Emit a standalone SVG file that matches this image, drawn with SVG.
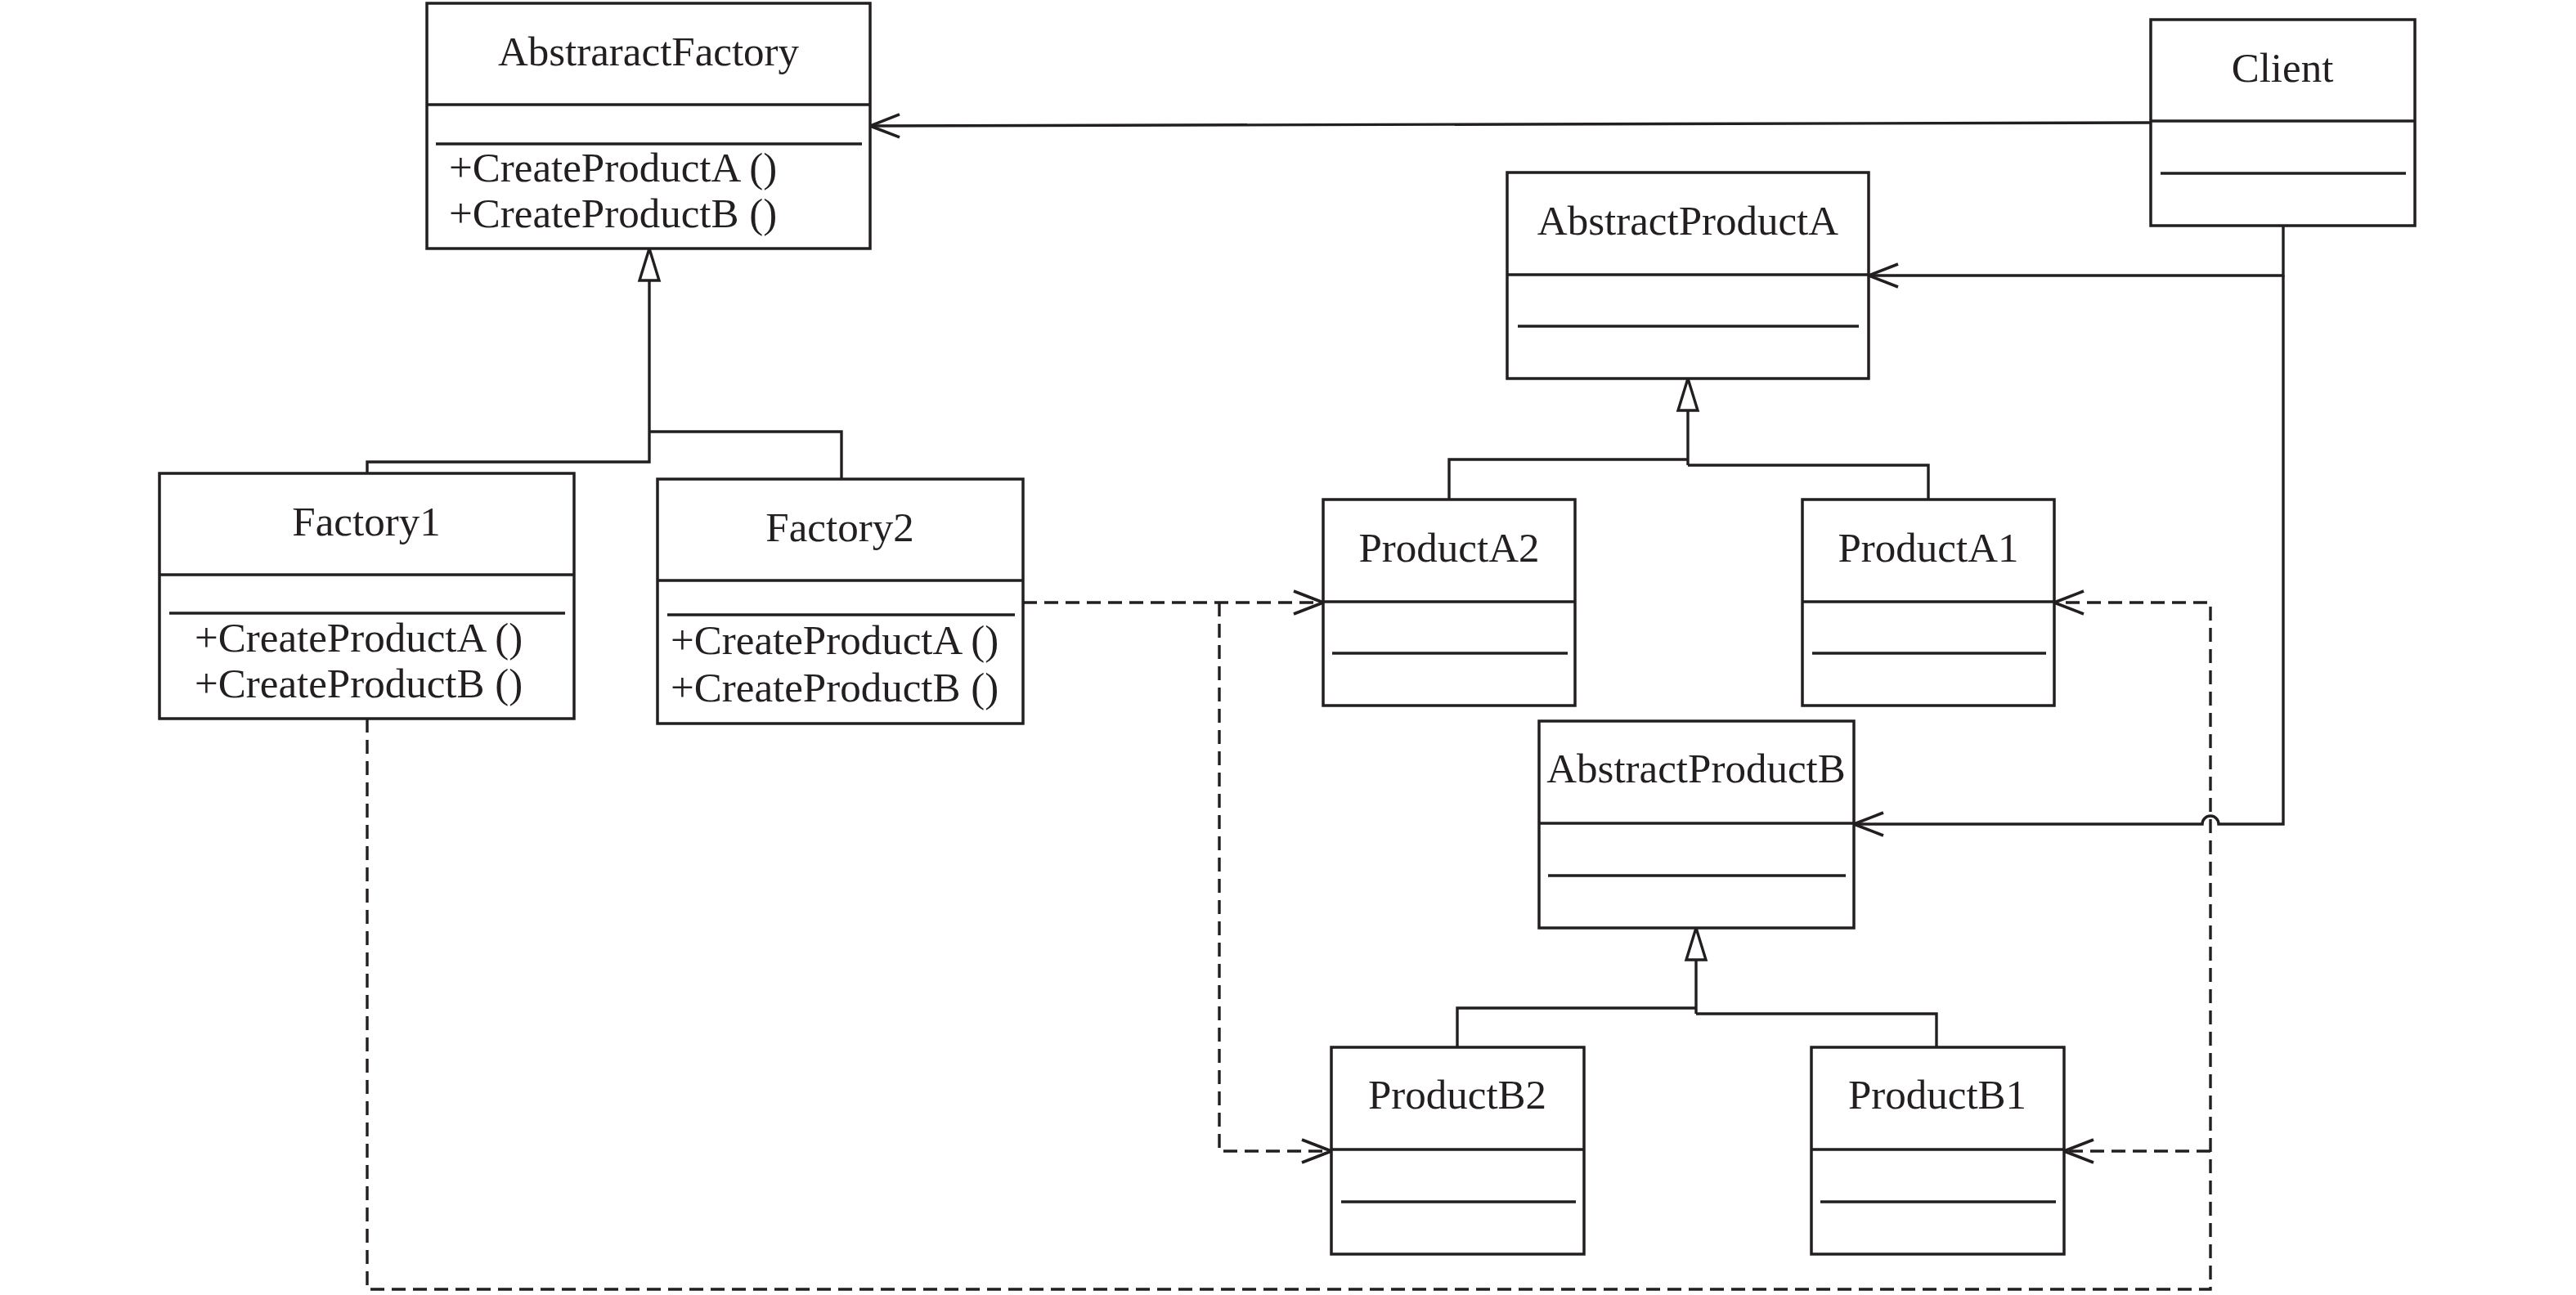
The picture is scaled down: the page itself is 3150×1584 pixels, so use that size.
<svg xmlns="http://www.w3.org/2000/svg" width="3150" height="1584" viewBox="0 0 3150 1584">
<defs>
<style>
.box{fill:#fff;stroke:#231f20;stroke-width:3.5}
.ln{stroke:#231f20;stroke-width:3.5;fill:none}
.t{font-family:"Liberation Serif","Times New Roman",serif;font-size:51px;fill:#231f20}
.c{text-anchor:middle}
.solid{stroke:#231f20;stroke-width:3.4;fill:none}
.dash{stroke:#231f20;stroke-width:3.4;fill:none;stroke-dasharray:17 9}
.tri{fill:#fff;stroke:#231f20;stroke-width:3.4;stroke-linejoin:miter}
</style>
<marker id="open" markerUnits="userSpaceOnUse" viewBox="-40 -16 44 32" markerWidth="44" markerHeight="32" refX="0" refY="0" orient="auto">
<path d="M-36,-14 L0,0 L-36,14" fill="none" stroke="#231f20" stroke-width="3.6" stroke-dasharray="none"/>
</marker>
</defs>
<rect width="3150" height="1584" fill="#fff"/>

<g id="connectors">
<path class="solid" d="M2630,150 L1064,154" marker-end="url(#open)"/>
<path class="solid" d="M2792,276 L2792,337 L2285,337" marker-end="url(#open)"/>
<path class="solid" d="M2792,337 L2792,1008 L2713,1008 A10,10 0 0 0 2693,1008 L2267,1008" marker-end="url(#open)"/>
<path class="solid" d="M794,343 L794,565 L449,565 L449,579 M794,528 L1029,528 L1029,586"/>
<polygon class="tri" points="794,304 782,343 806,343"/>
<path class="solid" d="M2064,502 L2064,569 M2064,562 L1772,562 L1772,611 M2064,569 L2358,569 L2358,611"/>
<polygon class="tri" points="2064,463 2052,502 2076,502"/>
<path class="solid" d="M2074,1174 L2074,1240 M2074,1233 L1782,1233 L1782,1281 M2074,1240 L2368,1240 L2368,1281"/>
<polygon class="tri" points="2074,1135 2062,1174 2086,1174"/>
<path class="dash" d="M1251,737 L1618,737" marker-end="url(#open)"/>
<path class="dash" d="M1491,737 L1491,1408 L1628,1408" marker-end="url(#open)"/>
<path class="dash" d="M449,879 L449,1577 L2703,1577 L2703,737 L2512,737" marker-end="url(#open)"/>
<path class="dash" d="M2703,1408 L2524,1408" marker-end="url(#open)"/>
</g>

<g id="AbstraractFactory">
<rect class="box" x="522" y="4" width="542" height="300"/>
<line class="ln" x1="522" y1="128" x2="1064" y2="128"/>
<line class="ln" x1="533" y1="176" x2="1054" y2="176"/>
<text class="t c" x="793" y="80">AbstraractFactory</text>
<text class="t" x="549" y="222">+CreateProductA ()</text>
<text class="t" x="549" y="278">+CreateProductB ()</text>
</g>

<g id="Client">
<rect class="box" x="2630" y="24" width="323" height="252"/>
<line class="ln" x1="2630" y1="148" x2="2953" y2="148"/>
<line class="ln" x1="2642" y1="212" x2="2942" y2="212"/>
<text class="t c" x="2791" y="100">Client</text>
</g>

<g id="AbstractProductA">
<rect class="box" x="1843" y="211" width="442" height="252"/>
<line class="ln" x1="1843" y1="336" x2="2285" y2="336"/>
<line class="ln" x1="1856" y1="399" x2="2273" y2="399"/>
<text class="t c" x="2064" y="287">AbstractProductA</text>
</g>

<g id="Factory1">
<rect class="box" x="195" y="579" width="507" height="300"/>
<line class="ln" x1="195" y1="703" x2="702" y2="703"/>
<line class="ln" x1="207" y1="750" x2="691" y2="750"/>
<text class="t c" x="448" y="655">Factory1</text>
<text class="t" x="238" y="797">+CreateProductA ()</text>
<text class="t" x="238" y="853">+CreateProductB ()</text>
</g>

<g id="Factory2">
<rect class="box" x="804" y="586" width="447" height="299"/>
<line class="ln" x1="804" y1="710" x2="1251" y2="710"/>
<line class="ln" x1="816" y1="752" x2="1241" y2="752"/>
<text class="t c" x="1027" y="662">Factory2</text>
<text class="t" x="820" y="800">+CreateProductA ()</text>
<text class="t" x="820" y="858">+CreateProductB ()</text>
</g>

<g id="ProductA2">
<rect class="box" x="1618" y="611" width="308" height="252"/>
<line class="ln" x1="1618" y1="736" x2="1926" y2="736"/>
<line class="ln" x1="1629" y1="799" x2="1917" y2="799"/>
<text class="t c" x="1772" y="687">ProductA2</text>
</g>

<g id="ProductA1">
<rect class="box" x="2204" y="611" width="308" height="252"/>
<line class="ln" x1="2204" y1="736" x2="2512" y2="736"/>
<line class="ln" x1="2216" y1="799" x2="2502" y2="799"/>
<text class="t c" x="2358" y="687">ProductA1</text>
</g>

<g id="AbstractProductB">
<rect class="box" x="1882" y="882" width="385" height="253"/>
<line class="ln" x1="1882" y1="1007" x2="2267" y2="1007"/>
<line class="ln" x1="1893" y1="1071" x2="2257" y2="1071"/>
<text class="t c" x="2074" y="957">AbstractProductB</text>
</g>

<g id="ProductB2">
<rect class="box" x="1628" y="1281" width="309" height="253"/>
<line class="ln" x1="1628" y1="1406" x2="1937" y2="1406"/>
<line class="ln" x1="1640" y1="1470" x2="1927" y2="1470"/>
<text class="t c" x="1782" y="1356">ProductB2</text>
</g>

<g id="ProductB1">
<rect class="box" x="2215" y="1281" width="309" height="253"/>
<line class="ln" x1="2215" y1="1406" x2="2524" y2="1406"/>
<line class="ln" x1="2226" y1="1470" x2="2514" y2="1470"/>
<text class="t c" x="2369" y="1356">ProductB1</text>
</g>
</svg>
